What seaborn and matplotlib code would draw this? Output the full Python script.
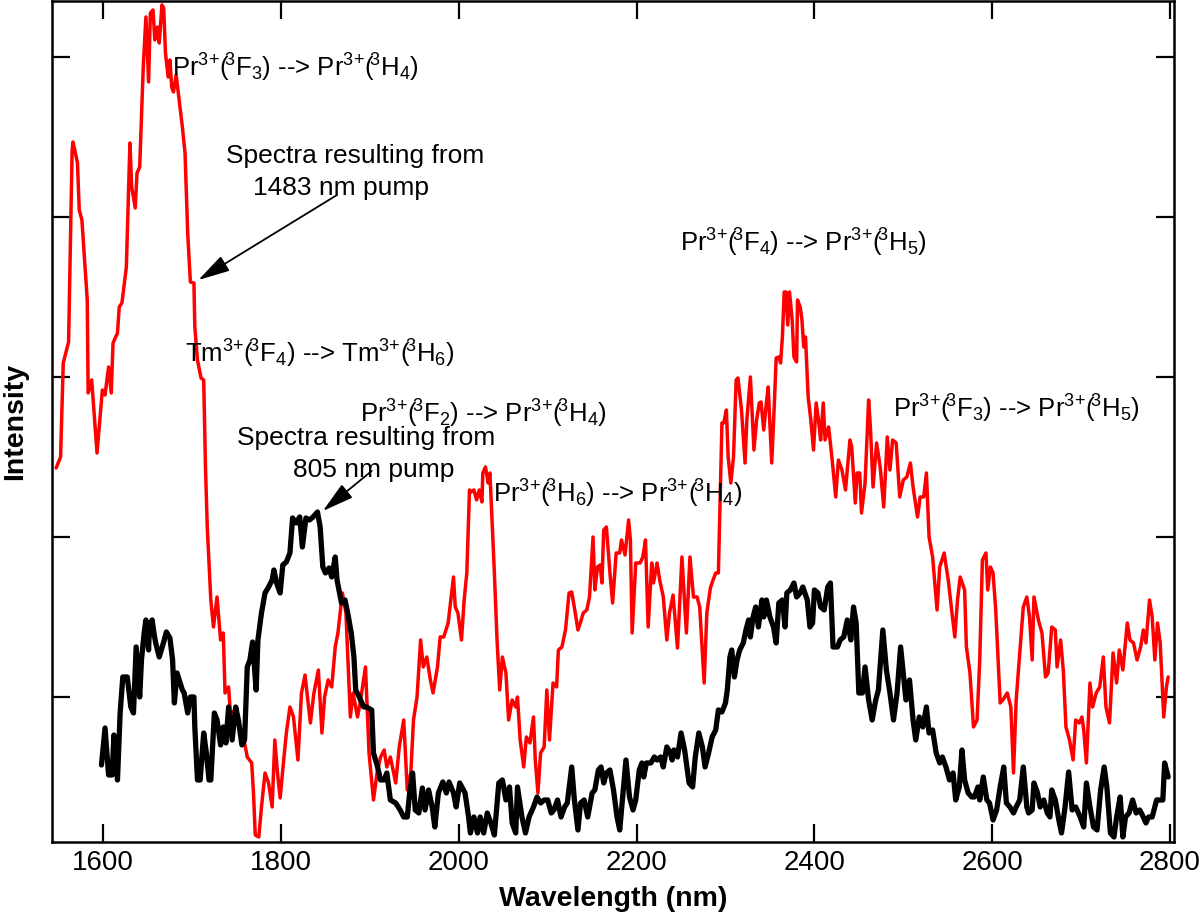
import numpy as np
import pandas as pd
import matplotlib
matplotlib.use("Agg")
import matplotlib.pyplot as plt
import seaborn as sns

# ---------------- data ----------------
red_wl = [1547, 1552, 1555, 1561, 1565, 1566, 1571, 1573, 1576, 1582, 1583, 1587, 1593, 1599, 1602, 1606, 1609, 1611,
          1616, 1618, 1621, 1626, 1630, 1632, 1636, 1638, 1641, 1645, 1648, 1651, 1653, 1656, 1658, 1661, 1663, 1666,
          1668, 1670, 1673, 1675, 1677, 1679, 1682, 1689, 1692, 1695, 1698, 1702, 1703, 1706, 1710, 1713, 1715, 1717,
          1721, 1724, 1728, 1732, 1735, 1737, 1741, 1743, 1749, 1754, 1759, 1762, 1767, 1769, 1771, 1775, 1778, 1782,
          1786, 1790, 1793, 1796, 1799, 1803, 1806, 1810, 1814, 1819, 1823, 1827, 1833, 1837, 1842, 1846, 1849, 1853,
          1857, 1861, 1864, 1869, 1873, 1878, 1881, 1886, 1889, 1895, 1899, 1904, 1908, 1912, 1916, 1919, 1923, 1929,
          1933, 1938, 1942, 1946, 1949, 1953, 1957, 1960, 1964, 1968, 1971, 1976, 1979, 1983, 1988, 1991, 1994, 1996,
          1999, 2003, 2006, 2009, 2012, 2014, 2017, 2020, 2023, 2026, 2027, 2030, 2033, 2035, 2040, 2043, 2046, 2049,
          2053, 2056, 2060, 2064, 2066, 2069, 2073, 2076, 2080, 2084, 2086, 2089, 2092, 2096, 2099, 2102, 2106, 2110,
          2112, 2116, 2120, 2124, 2127, 2131, 2134, 2137, 2140, 2144, 2147, 2151, 2153, 2156, 2159, 2161, 2163, 2166,
          2170, 2173, 2177, 2181, 2183, 2187, 2191, 2193, 2195, 2199, 2204, 2207, 2210, 2213, 2217, 2219, 2223, 2226,
          2230, 2234, 2237, 2241, 2246, 2251, 2256, 2260, 2264, 2268, 2271, 2276, 2279, 2283, 2286, 2289, 2292, 2296,
          2298, 2301, 2303, 2306, 2309, 2312, 2314, 2318, 2322, 2324, 2328, 2332, 2335, 2338, 2340, 2343, 2346, 2348,
          2352, 2355, 2357, 2360, 2362, 2364, 2366, 2368, 2370, 2372, 2375, 2377, 2380, 2381, 2384, 2386, 2388, 2390,
          2393, 2396, 2399, 2402, 2405, 2407, 2410, 2412, 2416, 2420, 2424, 2427, 2431, 2435, 2440, 2442, 2446, 2448,
          2451, 2453, 2457, 2461, 2463, 2466, 2470, 2474, 2478, 2482, 2485, 2488, 2492, 2496, 2500, 2504, 2508, 2511,
          2516, 2519, 2523, 2526, 2529, 2533, 2538, 2541, 2546, 2551, 2554, 2558, 2561, 2564, 2569, 2571, 2575, 2579,
          2583, 2586, 2589, 2593, 2595, 2598, 2601, 2604, 2609, 2612, 2617, 2621, 2624, 2627, 2631, 2635, 2639, 2642,
          2645, 2647, 2652, 2656, 2660, 2663, 2667, 2671, 2673, 2677, 2680, 2683, 2687, 2691, 2694, 2698, 2701, 2703,
          2706, 2710, 2713, 2717, 2721, 2725, 2728, 2732, 2736, 2740, 2743, 2747, 2752, 2755, 2759, 2763, 2767, 2770,
          2773, 2777, 2780, 2783, 2786, 2789, 2793, 2796, 2798]
red_int = [374, 385, 479, 500, 692, 700, 679, 632, 622, 542, 449, 462, 389, 452, 447, 475, 449, 499,
           509, 535, 539, 575, 699, 655, 634, 669, 675, 775, 825, 760, 829, 832, 802, 815, 799, 837,
           834, 789, 765, 782, 755, 750, 767, 715, 689, 609, 560, 559, 515, 482, 464, 462, 375, 315,
           242, 215, 245, 202, 209, 149, 155, 129, 132, 115, 99, 85, 79, 49, 7, 5, 35, 69,
           59, 35, 102, 69, 44, 82, 109, 135, 125, 82, 149, 167, 119, 149, 172, 109, 145, 162,
           155, 195, 209, 249, 229, 125, 149, 125, 139, 175, 89, 42, 69, 85, 92, 75, 85, 59,
           95, 122, 52, 69, 122, 145, 202, 175, 185, 162, 149, 175, 205, 205, 219, 242, 265, 235,
           229, 202, 242, 269, 352, 350, 352, 342, 352, 340, 369, 375, 359, 369, 269, 202, 152, 185,
           169, 122, 142, 135, 145, 102, 75, 105, 99, 125, 82, 49, 89, 95, 152, 102, 159, 155,
           192, 195, 212, 249, 250, 229, 212, 220, 229, 232, 245, 305, 252, 275, 277, 259, 312, 315,
           269, 239, 289, 289, 302, 287, 322, 302, 209, 279, 279, 285, 302, 215, 279, 259, 279, 262,
           245, 202, 229, 247, 194, 285, 209, 285, 245, 245, 235, 159, 229, 254, 262, 269, 269, 419,
           419, 432, 385, 359, 385, 462, 464, 432, 379, 422, 465, 392, 422, 439, 440, 412, 439, 455,
           379, 439, 484, 485, 479, 505, 550, 550, 517, 550, 522, 485, 480, 542, 535, 522, 495, 505,
           445, 422, 392, 439, 419, 402, 439, 402, 415, 382, 345, 382, 372, 352, 402, 395, 339, 369,
           369, 329, 359, 442, 415, 355, 399, 375, 335, 405, 372, 402, 399, 345, 362, 365, 379, 355,
           325, 345, 345, 369, 305, 285, 232, 275, 289, 259, 235, 205, 242, 265, 252, 195, 169, 115,
           122, 182, 282, 289, 252, 275, 269, 232, 139, 142, 149, 135, 69, 142, 189, 235, 245, 225,
           182, 245, 222, 209, 165, 169, 215, 212, 175, 202, 172, 115, 102, 82, 122, 119, 125, 112,
           79, 159, 135, 149, 155, 185, 135, 119, 189, 159, 192, 172, 219, 202, 199, 182, 195, 212,
           199, 242, 225, 182, 219, 199, 125, 155, 165]

black_wl = [1598, 1602, 1606, 1610, 1612, 1616, 1619, 1622, 1627, 1631, 1634, 1637, 1641, 1643, 1646, 1648, 1651, 1652,
            1655, 1657, 1659, 1663, 1668, 1671, 1675, 1678, 1680, 1683, 1689, 1691, 1695, 1698, 1702, 1703, 1706, 1709,
            1713, 1716, 1719, 1721, 1725, 1728, 1732, 1735, 1738, 1741, 1745, 1749, 1752, 1756, 1759, 1762, 1765, 1768,
            1772, 1774, 1778, 1782, 1786, 1790, 1792, 1795, 1799, 1802, 1806, 1810, 1813, 1817, 1821, 1824, 1828, 1832,
            1836, 1841, 1844, 1847, 1850, 1854, 1857, 1861, 1863, 1868, 1872, 1875, 1879, 1882, 1884, 1888, 1893, 1896,
            1902, 1904, 1908, 1912, 1916, 1919, 1923, 1929, 1934, 1938, 1942, 1945, 1948, 1951, 1955, 1959, 1962, 1966,
            1970, 1973, 1977, 1982, 1986, 1989, 1994, 1997, 2001, 2007, 2011, 2013, 2017, 2021, 2024, 2028, 2032, 2036,
            2040, 2045, 2049, 2053, 2057, 2060, 2064, 2066, 2071, 2075, 2079, 2084, 2088, 2092, 2096, 2100, 2104, 2107,
            2111, 2115, 2119, 2122, 2127, 2130, 2134, 2137, 2141, 2145, 2150, 2153, 2157, 2160, 2163, 2166, 2170, 2174,
            2178, 2181, 2184, 2188, 2192, 2196, 2199, 2203, 2206, 2208, 2211, 2216, 2220, 2223, 2227, 2230, 2234, 2238,
            2240, 2242, 2246, 2250, 2254, 2259, 2263, 2266, 2270, 2274, 2277, 2281, 2285, 2289, 2292, 2296, 2300, 2302,
            2305, 2307, 2310, 2313, 2316, 2320, 2323, 2326, 2328, 2331, 2334, 2337, 2341, 2343, 2346, 2350, 2354, 2357,
            2360, 2364, 2367, 2369, 2373, 2377, 2380, 2384, 2387, 2392, 2395, 2398, 2400, 2404, 2407, 2411, 2415, 2418,
            2421, 2426, 2429, 2433, 2437, 2441, 2444, 2447, 2450, 2454, 2457, 2461, 2465, 2469, 2472, 2477, 2481, 2485,
            2489, 2493, 2497, 2500, 2503, 2507, 2511, 2514, 2518, 2522, 2526, 2529, 2533, 2537, 2541, 2544, 2548, 2552,
            2556, 2559, 2563, 2566, 2569, 2573, 2577, 2580, 2584, 2586, 2590, 2594, 2597, 2601, 2605, 2609, 2613, 2616,
            2620, 2624, 2627, 2631, 2635, 2639, 2641, 2645, 2647, 2651, 2654, 2658, 2662, 2665, 2667, 2671, 2675, 2678,
            2682, 2686, 2690, 2694, 2699, 2703, 2706, 2710, 2714, 2718, 2722, 2726, 2729, 2733, 2737, 2740, 2744, 2747,
            2750, 2754, 2758, 2762, 2766, 2770, 2773, 2776, 2780, 2785, 2788, 2792, 2794, 2798]
black_int = [77, 114, 67, 67, 107, 62, 129, 165, 165, 135, 129, 195, 145, 182, 209, 222, 192, 215,
             222, 209, 199, 185, 200, 210, 204, 182, 139, 169, 152, 149, 129, 145, 145, 115, 62, 62,
             109, 89, 62, 62, 129, 122, 97, 115, 99, 135, 102, 135, 122, 97, 102, 175, 182, 200,
             152, 202, 229, 249, 255, 262, 272, 259, 249, 277, 280, 289, 324, 319, 325, 295, 324, 322,
             325, 330, 315, 275, 269, 274, 265, 285, 262, 239, 242, 229, 209, 185, 152, 145, 135, 135,
             132, 89, 77, 62, 62, 69, 42, 39, 32, 25, 25, 52, 69, 32, 29, 54, 32, 52,
             35, 15, 49, 60, 49, 60, 49, 35, 59, 49, 25, 9, 25, 9, 25, 9, 29, 19,
             7, 59, 62, 42, 55, 19, 9, 55, 25, 9, 25, 35, 45, 39, 42, 42, 29, 32,
             42, 25, 35, 39, 75, 42, 12, 39, 42, 25, 49, 52, 72, 75, 59, 69, 72, 52,
             25, 12, 42, 82, 45, 32, 42, 72, 79, 65, 79, 79, 85, 82, 85, 75, 95, 89,
             82, 92, 85, 109, 92, 59, 55, 85, 109, 95, 75, 89, 105, 112, 132, 130, 139, 152,
             185, 192, 165, 182, 192, 199, 212, 222, 205, 225, 235, 215, 242, 225, 242, 225, 215, 199,
             239, 242, 215, 249, 252, 259, 245, 249, 255, 242, 215, 219, 252, 249, 235, 232, 255, 259,
             195, 195, 202, 205, 222, 202, 235, 219, 149, 149, 175, 142, 122, 142, 152, 212, 172, 149,
             122, 149, 195, 169, 142, 162, 122, 102, 125, 115, 135, 109, 112, 89, 79, 85, 75, 62,
             69, 42, 55, 92, 62, 49, 45, 45, 55, 42, 65, 42, 39, 22, 32, 55, 75, 39,
             35, 29, 35, 42, 75, 35, 29, 32, 59, 49, 35, 42, 29, 25, 52, 42, 22, 9,
             35, 70, 32, 35, 25, 15, 59, 35, 15, 12, 52, 75, 55, 9, 5, 25, 45, 5,
             25, 29, 42, 29, 32, 25, 19, 25, 25, 42, 42, 42, 79, 65]

x_ticks = [1600, 1800, 2000, 2200, 2400, 2600, 2800]
y_ticks = [145, 305, 465, 625, 785]

transition_labels = [
    (r"Pr$^{3{+}}$($\!^{3}$F$_{3}$) --> Pr$^{3{+}}$($\!^{3}$H$_{4}$)", 1677, 765),
    (r"Tm$^{3{+}}$($\!^{3}$F$_{4}$) --> Tm$^{3{+}}$($\!^{3}$H$_{6}$)", 1692, 479),
    (r"Pr$^{3{+}}$($\!^{3}$F$_{2}$) --> Pr$^{3{+}}$($\!^{3}$H$_{4}$)", 1889, 419),
    (r"Pr$^{3{+}}$($\!^{3}$H$_{6}$) --> Pr$^{3{+}}$($\!^{3}$H$_{4}$)", 2038, 339),
    (r"Pr$^{3{+}}$($\!^{3}$F$_{4}$) --> Pr$^{3{+}}$($\!^{3}$H$_{5}$)", 2249, 590),
    (r"Pr$^{3{+}}$($\!^{3}$F$_{3}$) --> Pr$^{3{+}}$($\!^{3}$H$_{5}$)", 2488, 424),
]
pump_labels = [
    ("Spectra resulting from", 1738, 679),
    ("1483 nm pump", 1768, 647),
    ("Spectra resulting from", 1751, 397),
    ("805 nm pump", 1813, 365),
]
arrows = [((1707, 562), (1863, 647)), ((1847, 331), (1902, 371))]

# ---------------- style ----------------
sns.set_style("ticks")
plt.rcParams["font.family"] = ["Liberation Sans", "DejaVu Sans"]
plt.rcParams["mathtext.fontset"] = "custom"
plt.rcParams["mathtext.rm"] = "Liberation Sans"
plt.rcParams["mathtext.it"] = "Liberation Sans"
plt.rcParams["mathtext.bf"] = "Liberation Sans:bold"
plt.rcParams["mathtext.default"] = "regular"
for key in ["text.color", "axes.labelcolor", "xtick.color", "ytick.color", "axes.edgecolor"]:
    plt.rcParams[key] = "black"

fig = plt.figure(figsize=(12, 9.21), dpi=100)
ax = fig.add_axes([0.0433, 0.0858, 0.935, 0.9126])

red_df = pd.DataFrame({"Wavelength": red_wl, "Intensity": red_int})
black_df = pd.DataFrame({"Wavelength": black_wl, "Intensity": black_int})

sns.lineplot(data=red_df, x="Wavelength", y="Intensity", color="#ff0000", lw=2.5,
             estimator=None, sort=False, ax=ax)
sns.lineplot(data=black_df, x="Wavelength", y="Intensity", color="black", lw=3.8,
             estimator=None, sort=False, ax=ax)

ax.set_xlim(1542.3, 2804.5)
ax.set_ylim(0, 840.5)
ax.set_xticks(x_ticks)
ax.set_xticklabels([str(t) for t in x_ticks])
ax.set_yticks(y_ticks)
ax.tick_params(axis="both", direction="in", length=13, width=1.6, top=True, right=True,
               labelleft=False, labelsize=20, pad=6, color="black", labelcolor="black")
for s in ax.spines.values():
    s.set_linewidth(1.8)
    s.set_color("black")
    s.set_visible(True)

ax.set_xlabel("Wavelength (nm)", fontsize=20.5, fontweight="bold", labelpad=7)
ax.set_ylabel("Intensity", fontsize=20.5, fontweight="bold", labelpad=17)

for txt, x, y in transition_labels:
    ax.text(x, y, txt, fontsize=18.5, ha="left", va="baseline", color="black")
for txt, x, y in pump_labels:
    ax.text(x, y, txt, fontsize=19, ha="left", va="baseline", color="black")

for head, tail in arrows:
    ax.annotate("", xy=head, xytext=tail,
                arrowprops=dict(arrowstyle="-|>,head_length=1.3,head_width=0.35",
                                mutation_scale=15, color="black", lw=1.3,
                                shrinkA=0, shrinkB=0))

fig.savefig("out.png", dpi=100)
